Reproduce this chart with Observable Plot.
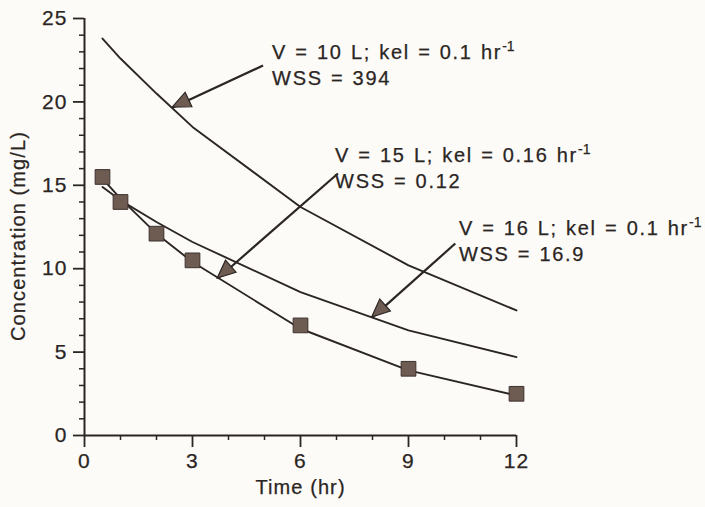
<!DOCTYPE html>
<html><head><meta charset="utf-8">
<script src="https://cdn.jsdelivr.net/npm/d3@7"></script>
<script src="https://cdn.jsdelivr.net/npm/@observablehq/plot@0.6"></script>
<style>
html,body{margin:0;padding:0;background:#fcfbf7;}
#chart svg{background:transparent;display:block;}
</style></head><body><div id="chart"></div>
<script>
// Time points (hr)
const times = [0.5, 1, 2, 3, 6, 9, 12];
// Observed concentrations (mg/L) — squares
const observed = [15.5, 14.0, 12.1, 10.5, 6.6, 4.0, 2.5];
// Model curves
const fitV10 = [23.8, 22.6, 20.5, 18.5, 13.7, 10.2, 7.5];   // V = 10 L; kel = 0.1
const fitV16 = [14.9, 14.1, 12.8, 11.6, 8.6, 6.3, 4.7];     // V = 16 L; kel = 0.1
const fitV15 = [15.4, 14.2, 12.1, 10.4, 6.4, 3.9, 2.4];     // V = 15 L; kel = 0.16

const xTicks = [0, 3, 6, 9, 12];
const xMinor = [1, 2, 4, 5, 7, 8, 10, 11];
const yTicks = [0, 5, 10, 15, 20, 25];
const yMinor = [1, 2, 3, 4, 6, 7, 8, 9, 11, 12, 13, 14, 16, 17, 18, 19, 21, 22, 23, 24];

const xLabel = "Time (hr)";
const yLabel = "Concentration (mg/L)";

// Annotation labels
const labelText = ["V = 10 L; kel = 0.1 hr", "WSS = 394", "V = 15 L; kel = 0.16 hr", "WSS = 0.12", "V = 16 L; kel = 0.1 hr", "WSS = 16.9"];
const labelX = [5.21, 5.21, 6.96, 6.96, 10.40, 10.40];
const labelY = [22.96, 21.40, 16.79, 15.23, 12.41, 10.85];
// Arrows (tail -> tip)
const arrowX1 = [4.96, 7.04, 10.30];
const arrowY1 = [22.18, 15.71, 11.51];
const arrowX2 = [2.45, 3.70, 7.99];
const arrowY2 = [19.66, 9.41, 7.07];

const ink = "#2b2523";
const series = [
  {name: "V10", vals: fitV10},
  {name: "V16", vals: fitV16},
  {name: "V15", vals: fitV15}
];
const lineData = series.flatMap(s => times.map((t, i) => ({series: s.name, t, c: s.vals[i]})));
const obsData = times.map((t, i) => ({t, c: observed[i]}));
const labels = labelText.map((text, i) => ({text, x: labelX[i], y: labelY[i]}));
const arrows = arrowX1.map((x1, i) => ({x1, y1: arrowY1[i], x2: arrowX2[i], y2: arrowY2[i]}));

const font = "'Liberation Sans', Arial, Helvetica, sans-serif";

const plot = Plot.plot({
  width: 705,
  height: 507,
  marginLeft: 84,
  marginRight: 189,
  marginTop: 18,
  marginBottom: 72,
  style: {fontFamily: font, fontSize: "20px", color: ink, background: "transparent", overflow: "visible"},
  x: {domain: [0, 12]},
  y: {domain: [0, 25]},
  marks: [
    Plot.axisY(yMinor, {tickSize: 5, tickFormat: () => "", stroke: ink, strokeWidth: 1.5}),
    Plot.axisY(yTicks, {tickSize: 11, tickPadding: 6, stroke: ink, strokeWidth: 1.8, fontSize: 21, fill: ink, label: null}),
    Plot.axisX(xMinor, {tickSize: 5, tickFormat: () => "", stroke: ink, strokeWidth: 1.5}),
    Plot.axisX(xTicks, {tickSize: 12, tickPadding: 6, stroke: ink, strokeWidth: 1.8, fontSize: 21, fill: ink, label: null}),
    Plot.ruleX([0], {y1: 0, y2: 25, stroke: ink, strokeWidth: 2}),
    Plot.ruleY([0], {x1: 0, x2: 12, stroke: ink, strokeWidth: 2}),
    Plot.line(lineData, {x: "t", y: "c", z: "series", stroke: ink, strokeWidth: 1.9}),
    Plot.dot(obsData, {x: "t", y: "c", symbol: "square", r: 8.3, fill: "#6e5b52", stroke: "#3d322e", strokeWidth: 1}),
    Plot.link(arrows, {x1: "x1", y1: "y1", x2: "x2", y2: "y2", stroke: ink, strokeWidth: 2.2}),
    Plot.text(labels, {x: "x", y: "y", text: "text", textAnchor: "start", fontSize: 20, fill: ink}),
    Plot.text([xLabel], {frameAnchor: "bottom", dy: 58, fontSize: 20, fill: ink}),
    Plot.text([yLabel], {frameAnchor: "left", textAnchor: "middle", rotate: -90, dx: -66, dy: 9, fontSize: 20, fill: ink})
  ]
});

document.getElementById("chart").appendChild(plot);

const svg = d3.select(plot);
// letter spacing to mimic original wide typesetting
svg.selectAll("text").style("letter-spacing", "1.1px");
svg.selectAll("text").filter(function(){ return labelText.includes(this.textContent); })
  .style("letter-spacing", "1.7px")
  .style("word-spacing", "1px");
// superscripts
svg.selectAll("text").filter(function(){ return this.textContent.endsWith(" hr") && labelText.includes(this.textContent); })
  .each(function(){
    d3.select(this).append("tspan").attr("dy", "-0.55em").attr("font-size", 14).style("letter-spacing", "0px").text("-1");
  });
// slightly heavier text like the printed original
svg.selectAll("text").attr("stroke", ink).attr("stroke-width", 0.25);

// filled arrowheads
const sx = plot.scale("x"), sy = plot.scale("y");
const headG = svg.append("g").attr("aria-label", "arrowheads");
arrows.forEach(a => {
  const tx = sx.apply(a.x2), ty = sy.apply(a.y2);
  const fx = sx.apply(a.x1), fy = sy.apply(a.y1);
  const dx = tx - fx, dy = ty - fy, len = Math.hypot(dx, dy);
  const ux = dx / len, uy = dy / len, nx = -uy, ny = ux;
  const L = 18, W = 16;
  const bx = tx - L * ux, by = ty - L * uy;
  headG.append("path")
    .attr("d", `M${tx},${ty}L${bx + nx * W / 2},${by + ny * W / 2}L${bx - nx * W / 2},${by - ny * W / 2}Z`)
    .attr("fill", "#6e5b52").attr("stroke", ink).attr("stroke-width", 1.2);
});
</script></body></html>
